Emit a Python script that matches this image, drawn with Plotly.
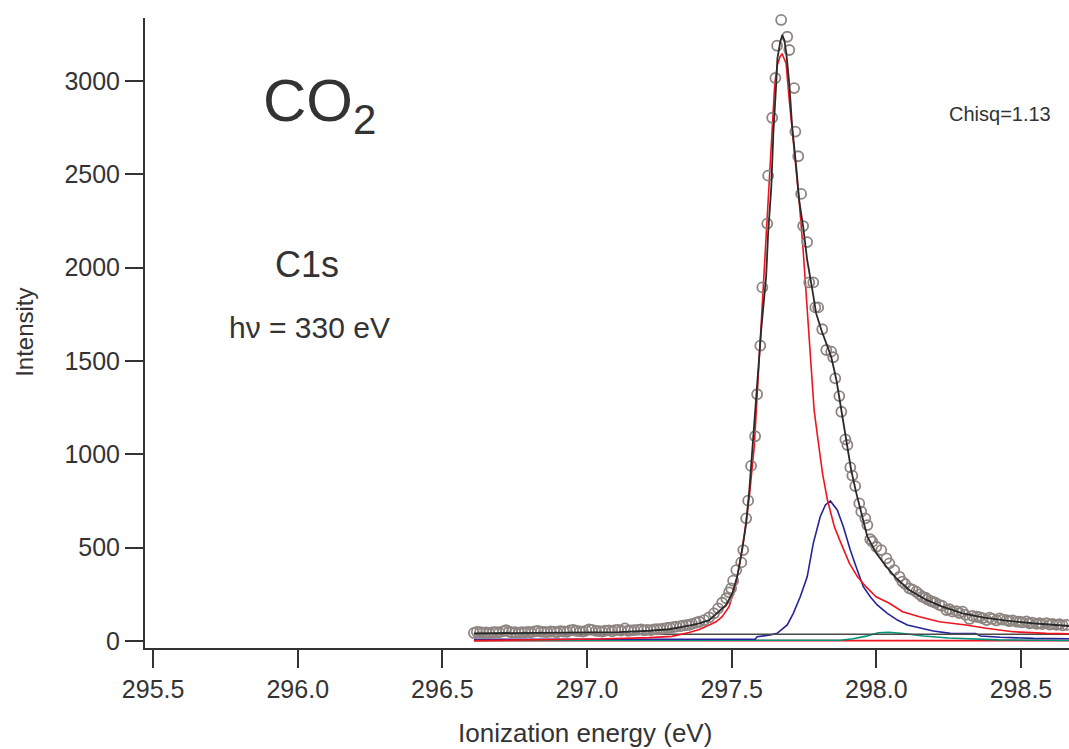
import plotly.graph_objects as go

# ---------------- data ----------------
data_e = [296.609, 296.619, 296.630, 296.640, 296.651, 296.661, 296.675, 296.685, 296.696, 296.709,
          296.720, 296.730, 296.740, 296.751, 296.765, 296.775, 296.785, 296.796, 296.806, 296.820,
          296.830, 296.841, 296.851, 296.862, 296.875, 296.886, 296.896, 296.907, 296.920, 296.931,
          296.941, 296.952, 296.962, 296.976, 296.986, 296.997, 297.007, 297.017, 297.031, 297.042,
          297.052, 297.062, 297.076, 297.087, 297.097, 297.107, 297.118, 297.131, 297.142, 297.152,
          297.163, 297.176, 297.187, 297.197, 297.208, 297.221, 297.232, 297.242, 297.253, 297.263,
          297.277, 297.287, 297.298, 297.308, 297.322, 297.332, 297.343, 297.353, 297.363, 297.377,
          297.388, 297.405, 297.422, 297.439, 297.453, 297.467, 297.481, 297.491, 297.498, 297.505,
          297.516, 297.533, 297.540, 297.550, 297.557, 297.567, 297.581, 297.588, 297.599, 297.606,
          297.623, 297.626, 297.640, 297.651, 297.657, 297.671, 297.675, 297.692, 297.699, 297.716,
          297.720, 297.730, 297.740, 297.747, 297.761, 297.768, 297.782, 297.789, 297.799, 297.813,
          297.827, 297.844, 297.851, 297.858, 297.872, 297.879, 297.893, 297.900, 297.910, 297.917,
          297.927, 297.941, 297.948, 297.962, 297.969, 297.979, 297.986, 298.000, 298.017, 298.035,
          298.045, 298.062, 298.080, 298.090, 298.100, 298.114, 298.125, 298.138, 298.149, 298.159,
          298.170, 298.176, 298.187, 298.194, 298.204, 298.218, 298.228, 298.242, 298.253, 298.263,
          298.277, 298.287, 298.298, 298.308, 298.322, 298.332, 298.346, 298.356, 298.367, 298.381,
          298.391, 298.401, 298.415, 298.426, 298.436, 298.450, 298.460, 298.471, 298.484, 298.495,
          298.505, 298.519, 298.529, 298.540, 298.554, 298.564, 298.574, 298.588, 298.599, 298.609,
          298.623, 298.633, 298.644, 298.657, 298.670]
data_i = [43, 49, 47, 45, 46, 44, 47, 48, 46, 52,
          58, 50, 46, 47, 45, 48, 46, 49, 47, 52,
          54, 50, 49, 48, 51, 50, 47, 53, 51, 49,
          57, 60, 55, 52, 50, 56, 62, 60, 54, 53,
          50, 55, 57, 52, 58, 60, 56, 68, 55, 57,
          58, 60, 62, 57, 60, 58, 62, 63, 64, 66,
          70, 72, 74, 77, 80, 82, 85, 86, 92, 98,
          103, 112, 127, 148, 175, 205, 229, 261, 282, 323,
          380, 421, 487, 657, 752, 938, 1097, 1322, 1582, 1894,
          2236, 2493, 2803, 3016, 3189, 3327, 3341, 3237, 3166, 2962,
          2729, 2597, 2395, 2223, 2137, 1921, 1921, 1787, 1787, 1670,
          1559, 1550, 1520, 1407, 1312, 1228, 1080, 1050, 930, 886,
          830, 737, 693, 657, 621, 545, 532, 505, 487, 443,
          416, 380, 344, 318, 305, 282, 275, 264, 250, 237,
          232, 223, 215, 211, 205, 193, 188, 166, 170, 157,
          160, 150, 157, 140, 118, 135, 130, 128, 122, 112,
          125, 118, 110, 121, 115, 112, 106, 110, 104, 103,
          100, 105, 95, 98, 92, 95, 90, 96, 88, 91,
          86, 90, 84, 86, 84]

fit_e = [296.609, 296.903, 297.111, 297.215, 297.284, 297.353, 297.388, 297.422, 297.457, 297.481,
         297.502, 297.519, 297.536, 297.550, 297.561, 297.571, 297.581, 297.592, 297.599, 297.602,
         297.619, 297.626, 297.637, 297.644, 297.654, 297.658, 297.668, 297.675, 297.682, 297.689,
         297.699, 297.709, 297.723, 297.733, 297.747, 297.761, 297.779, 297.792, 297.810, 297.844,
         297.862, 297.879, 297.896, 297.913, 297.931, 297.948, 297.969, 298.000, 298.035, 298.069,
         298.114, 298.173, 298.228, 298.298, 298.367, 298.450, 298.540, 298.670]
fit_i = [41, 43, 48, 55, 63, 82, 95, 112, 157, 193,
         255, 344, 487, 630, 809, 1023, 1237, 1452, 1600, 1666,
         1952, 2184, 2434, 2720, 2988, 3120, 3211, 3246, 3219, 3147,
         2988, 2756, 2541, 2363, 2220, 2041, 1880, 1755, 1666, 1523,
         1398, 1237, 1077, 916, 791, 684, 559, 470, 398, 336,
         273, 220, 184, 148, 127, 109, 95, 80]

red_e = [296.609, 296.765, 297.042, 297.215, 297.294, 297.353, 297.388, 297.422, 297.446, 297.467,
         297.491, 297.509, 297.526, 297.543, 297.561, 297.578, 297.588, 297.602, 297.612, 297.620,
         297.630, 297.639, 297.649, 297.658, 297.667, 297.674, 297.688, 297.699, 297.710, 297.722,
         297.733, 297.747, 297.759, 297.765, 297.774, 297.785, 297.797, 297.814, 297.831, 297.855,
         297.878, 297.907, 297.935, 297.964, 297.999, 298.045, 298.091, 298.149, 298.218, 298.310,
         298.380, 298.472, 298.587, 298.670]
red_i = [2, 4, 11, 18, 25, 45, 62, 86, 103, 130,
         184, 273, 398, 559, 773, 1041, 1309, 1666, 1993, 2184,
         2434, 2720, 2988, 3086, 3130, 3147, 3094, 2898, 2720, 2541,
         2363, 2095, 1827, 1666, 1434, 1237, 1094, 898, 755, 612,
         523, 416, 344, 291, 237, 202, 157, 130, 103, 86,
         68, 50, 41, 38]

blue_e = [296.609, 297.581, 297.588, 297.633, 297.657, 297.692, 297.713, 297.737, 297.761, 297.782,
          297.806, 297.824, 297.841, 297.865, 297.886, 297.910, 297.934, 297.955, 297.979, 298.003,
          298.038, 298.073, 298.107, 298.152, 298.197, 298.256, 298.343, 298.360, 298.429, 298.543,
          298.670]
blue_i = [9, 9, 23, 32, 41, 86, 148, 237, 344, 523,
          666, 729, 750, 702, 612, 487, 380, 291, 237, 193,
          148, 112, 86, 68, 54, 41, 40, 27, 20, 14,
          12]

teal_e = [296.609, 297.789, 297.875, 297.920, 297.965, 298.007, 298.042, 298.093, 298.163, 298.249,
          298.336, 298.422, 298.670]
teal_i = [3, 3, 4, 12, 26, 44, 47, 40, 27, 16,
          11, 6, 3]

flat_e = [296.609, 298.670]
red_flat_i = [2, 2]
base_i = [36, 36]

x_ticks = [295.5, 296.0, 296.5, 297.0, 297.5, 298.0, 298.5]
x_tick_text = ["295.5", "296.0", "296.5", "297.0", "297.5", "298.0", "298.5"]
y_ticks = [0, 500, 1000, 1500, 2000, 2500, 3000]

# ---------------- figure ----------------
FONT = "Liberation Sans, Arial, Helvetica, sans-serif"
TXT = "#333333"

fig = go.Figure()
fig.add_trace(go.Scatter(x=flat_e, y=red_flat_i, mode="lines",
                         line=dict(color="#f0141e", width=1.6), showlegend=False))
fig.add_trace(go.Scatter(x=teal_e, y=teal_i, mode="lines",
                         line=dict(color="#00957a", width=1.6), showlegend=False))
fig.add_trace(go.Scatter(x=blue_e, y=blue_i, mode="lines",
                         line=dict(color="#24249a", width=1.6), showlegend=False))
fig.add_trace(go.Scatter(x=flat_e, y=base_i, mode="lines",
                         line=dict(color="#4a4a4a", width=1.6), showlegend=False))
fig.add_trace(go.Scatter(x=red_e, y=red_i, mode="lines",
                         line=dict(color="#f0141e", width=1.6), showlegend=False))
fig.add_trace(go.Scatter(x=data_e, y=data_i, mode="markers", cliponaxis=False,
                         marker=dict(symbol="circle-open", size=10, color="#8e8480",
                                     line=dict(width=1.8, color="#8e8480")),
                         showlegend=False))
fig.add_trace(go.Scatter(x=fit_e, y=fit_i, mode="lines",
                         line=dict(color="#2a2a2a", width=1.8), showlegend=False))

fig.update_layout(
    width=1069, height=749,
    margin=dict(l=145, r=0, t=18, b=101, pad=0),
    paper_bgcolor="white", plot_bgcolor="white",
    font=dict(family=FONT, color=TXT),
    showlegend=False,
    xaxis=dict(range=[295.472, 298.666], showgrid=False, zeroline=False,
               showline=True, linecolor=TXT, linewidth=2,
               ticks="outside", ticklen=18, tickwidth=2, tickcolor=TXT,
               tickvals=x_ticks, ticktext=x_tick_text,
               tickfont=dict(size=25, family=FONT, color=TXT)),
    yaxis=dict(range=[-37.5, 3337.5], showgrid=False, zeroline=False,
               showline=True, linecolor=TXT, linewidth=2,
               ticks="outside", ticklen=18, tickwidth=2, tickcolor=TXT,
               tickvals=y_ticks,
               tickfont=dict(size=25, family=FONT, color=TXT)),
)

ann = [
    dict(text="Ionization energy (eV)", x=0.476, y=-0.135, size=26, angle=0),
    dict(text="Intensity", x=-0.13, y=0.5016, size=24, angle=-90),
    dict(text="CO<sub>2</sub>", x=0.189, y=0.862, size=60, angle=0),
    dict(text="C1s", x=0.1753, y=0.609, size=36, angle=0),
    dict(text="hν = 330 eV", x=0.1775, y=0.5095, size=30, angle=0),
    dict(text="Chisq=1.13", x=0.9253, y=0.8476, size=20, angle=0),
]
for a in ann:
    fig.add_annotation(text=a["text"], xref="paper", yref="paper", x=a["x"], y=a["y"],
                       xanchor="center", yanchor="middle", showarrow=False,
                       textangle=a["angle"],
                       font=dict(size=a["size"], family=FONT, color=TXT))

fig.write_html("out.html")
